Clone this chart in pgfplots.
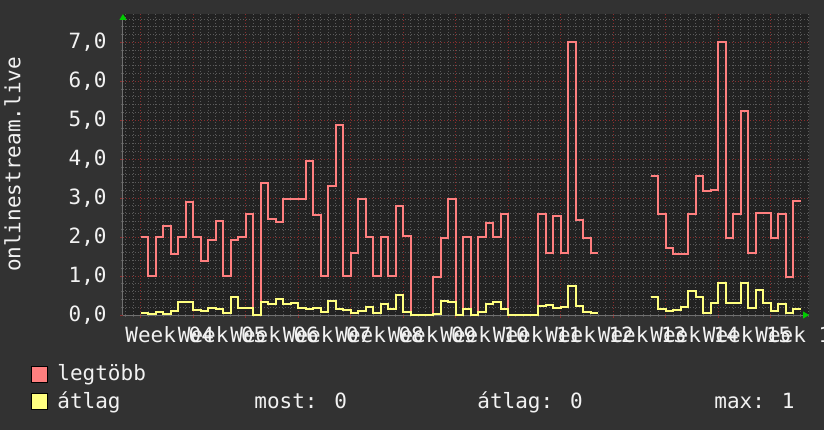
\documentclass[border=0pt]{standalone}
\usepackage{pgfplots}
\pgfplotsset{compat=1.18}
\usepackage{pgfplotstable}
\usepackage{fontspec}
\usetikzlibrary{arrows.meta}
\newfontfamily\rrd{DejaVu Sans Mono}
\newcommand\rrdfont{\rrd\fontsize{10.5}{12}\selectfont}

\definecolor{backc}{HTML}{323232}
\definecolor{canvasc}{HTML}{222222}
\definecolor{minorg}{HTML}{5A5A5A}
\definecolor{majorg}{HTML}{8C2E2E}
\definecolor{axisc}{HTML}{707070}
\definecolor{arrowc}{HTML}{00CC00}
\definecolor{maxc}{HTML}{FF7F7F}
\definecolor{avgc}{HTML}{FFFF7F}
\definecolor{txt}{HTML}{F2F2F2}

% one row per day; nan = no data
\pgfplotstableread{
i   max   avg
0   2.00  0.06
1   1.00  0.03
2   2.00  0.09
3   2.28  0.03
4   1.57  0.11
5   2.00  0.34
6   2.90  0.34
7   2.00  0.13
8   1.38  0.10
9   1.93  0.18
10  2.42  0.15
11  1.00  0.04
12  1.93  0.45
13  2.00  0.18
14  2.60  0.18
15  0     0
16  3.40  0.33
17  2.46  0.27
18  2.40  0.41
19  2.97  0.27
20  2.98  0.30
21  2.98  0.19
22  3.96  0.16
23  2.58  0.19
24  1.00  0.08
25  3.31  0.36
26  4.89  0.16
27  1.00  0.12
28  1.60  0.04
29  2.98  0.10
30  2.00  0.21
31  1.00  0.04
32  2.00  0.27
33  1.00  0.16
34  2.81  0.51
35  2.04  0.08
36  0     0
37  0     0
38  0     0
39  0.98  0.03
40  1.99  0.37
41  2.98  0.33
42  0     0
43  2.00  0.15
44  0     0
45  2.00  0.09
46  2.37  0.29
47  2.00  0.34
48  2.59  0.15
49  0     0
50  0     0
51  0     0
52  0     0
53  2.60  0.23
54  1.60  0.26
55  2.55  0.17
56  1.58  0.21
57  7.00  0.75
58  2.44  0.23
59  1.98  0.09
60  1.58  0.05
61  1.58  0.05
62  nan   nan
68  3.58  0.45
69  2.59  0.15
70  1.72  0.11
71  1.57  0.13
72  1.57  0.20
73  2.60  0.62
74  3.56  0.47
75  3.19  0.06
76  3.21  0.32
77  7.00  0.83
78  1.98  0.32
79  2.59  0.32
80  5.25  0.83
81  1.58  0.17
82  2.61  0.64
83  2.62  0.32
84  1.98  0.10
85  2.59  0.28
86  0.98  0.06
87  2.94  0.16
88  2.94  0.16
}\rrddata

\begin{document}
\begin{tikzpicture}
\path[use as bounding box] (0,0) rectangle (412pt,215pt);
\clip (0,0) rectangle (412pt,215pt);
\fill[backc] (0,0) rectangle (412pt,215pt);
\begin{axis}[
    at={(61.5pt,57.5pt)}, anchor=south west,
    scale only axis, width=343pt, height=150.5pt,
    xmin=-2.4, xmax=89.07,
    ymin=0, ymax=7.73,
    axis background/.style={fill=canvasc},
    axis x line=bottom, axis y line=left,
    axis line style={draw=axisc, line width=0.5pt},
    x axis line style={-{Triangle[length=3pt,width=3.5pt,color=arrowc]}},
    y axis line style={-{Triangle[length=3pt,width=3.5pt,color=arrowc]}},
    xtick={0,7,...,84},
    xticklabels={Week 04,Week 05,Week 06,Week 07,Week 08,Week 09,Week 10,
                 Week 11,Week 12,Week 13,Week 14,Week 15,Week 16},
    minor xtick={-2,-1,...,89},
    ytick={0,1,...,7},
    yticklabels={{0,0},{1,0},{2,0},{3,0},{4,0},{5,0},{6,0},{7,0}},
    minor ytick={0,0.2,...,7.7},
    grid=both,
    major grid style={draw=majorg, line width=0.5pt, dash pattern=on 0.5pt off 1pt},
    minor grid style={draw=minorg, line width=0.5pt, dash pattern=on 0.5pt off 1pt},
    tick align=outside,
    major tick length=1.5pt, minor tick length=1pt,
    major tick style={draw=majorg, line width=0.5pt},
    minor tick style={draw=minorg, line width=0.5pt},
    ticklabel style={font=\rrdfont, text=txt},
    xticklabel style={anchor=north west, inner sep=0pt, xshift=-8pt, yshift=-4pt},
    yticklabel style={anchor=east, inner sep=0pt, xshift=-6.5pt},
    ylabel={onlinestream.live},
    every axis y label/.style={at={(axis description cs:0,0.5)}, xshift=-55.25pt,
        rotate=90, anchor=center, font=\rrdfont, text=txt},
    unbounded coords=jump,
]
\addplot[const plot, maxc, line width=1pt] table[x=i, y=max] {\rrddata};
\addplot[const plot, avgc, line width=1pt] table[x=i, y=avg] {\rrddata};
\end{axis}

% legend and gprint lines
\filldraw[fill=maxc, draw=black, line width=0.5pt] (15.75pt,24pt) rectangle (23.75pt,32pt);
\filldraw[fill=avgc, draw=black, line width=0.5pt] (15.75pt,10.25pt) rectangle (23.75pt,18.25pt);
\node[anchor=base west, inner sep=0pt, text=txt, font=\rrdfont] at (28.5pt,24.75pt) {legtöbb};
\node[anchor=base west, inner sep=0pt, text=txt, font=\rrdfont] at (28.5pt,10.85pt) {átlag};
\node[anchor=base west, inner sep=0pt, text=txt, font=\rrdfont] at (127pt,10.85pt) {most: 0};
\node[anchor=base west, inner sep=0pt, text=txt, font=\rrdfont] at (238.5pt,10.85pt) {átlag: 0};
\node[anchor=base west, inner sep=0pt, text=txt, font=\rrdfont] at (357pt,10.85pt) {max: 1};
\end{tikzpicture}
\end{document}
